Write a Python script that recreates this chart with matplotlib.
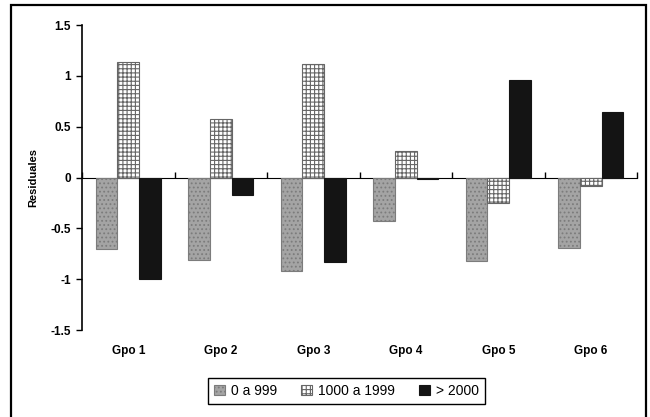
import numpy as np
import matplotlib
matplotlib.use("Agg")
import matplotlib.pyplot as plt
from matplotlib.patches import Rectangle

plt.rcParams['font.family'] = ['Liberation Sans', 'DejaVu Sans']
plt.rcParams['hatch.linewidth'] = 0.8

# datos
grupos = ["Gpo 1", "Gpo 2", "Gpo 3", "Gpo 4", "Gpo 5", "Gpo 6"]
series = ["0 a 999", "1000 a 1999", "> 2000"]
res_0_999 = [-0.70, -0.81, -0.92, -0.43, -0.82, -0.69]
res_1000_1999 = [1.14, 0.58, 1.12, 0.26, -0.25, -0.08]
res_2000 = [-1.00, -0.17, -0.83, -0.01, 0.96, 0.64]
y_ticks = [-1.5, -1, -0.5, 0, 0.5, 1, 1.5]
y_labels = ["-1.5", "-1", "-0.5", "0", "0.5", "1", "1.5"]

valores = [res_0_999, res_1000_1999, res_2000]
estilos = [
    dict(color="#a4a4a4", edgecolor="#7c7c7c", hatch="...."),
    dict(color="white", edgecolor="#666666", hatch="++++"),
    dict(color="#141414", edgecolor="#141414", hatch=None),
]

fig = plt.figure(figsize=(6.5, 4.17), dpi=100)
ax = fig.add_axes([0.1262, 0.2086, 0.8538, 0.7314])

x = np.arange(len(grupos))
ancho = 0.235
for i, (vals, est) in enumerate(zip(valores, estilos)):
    ax.bar(x + (i - 1) * ancho, vals, ancho, label=series[i], linewidth=0.8, **est)

ax.set_xlim(-0.5, len(grupos) - 0.5)
ax.set_ylim(-1.5, 1.5)
ax.set_yticks(y_ticks)
ax.set_yticklabels(y_labels, fontsize=8.5, fontweight="bold")
ax.tick_params(axis="y", direction="out", length=4, width=1, pad=4)

ax.set_xticks(x)
ax.set_xticklabels(grupos, fontsize=8.5, fontweight="bold")
ax.tick_params(axis="x", length=0, pad=11)

for s in ["top", "right", "bottom"]:
    ax.spines[s].set_visible(False)
ax.spines["left"].set_linewidth(1.2)

# eje en cero con marcas entre categorias
eje0 = ax.secondary_xaxis(0.5)
eje0.set_xticks(np.arange(len(grupos) + 1) - 0.5)
eje0.set_xticklabels([])
eje0.tick_params(direction="out", length=4, width=1)
eje0.spines["bottom"].set_linewidth(1.0)

ax.set_ylabel("Residuales", fontsize=8, fontweight="bold", labelpad=9)

fig.legend(loc="center", bbox_to_anchor=(0.533, 0.0624), ncol=3, fontsize=10,
           frameon=True, fancybox=False, edgecolor="black", framealpha=1,
           handlelength=0.8, handleheight=0.8, handletextpad=0.45,
           columnspacing=1.7, borderpad=0.4, borderaxespad=0)

# marco exterior del grafico
fig.patches.append(Rectangle((11 / 650, -0.01), 635 / 650, 1 - 5 / 417 + 0.01,
                             transform=fig.transFigure, fill=False,
                             edgecolor="black", linewidth=1.6))

fig.savefig("out.png", dpi=100)
